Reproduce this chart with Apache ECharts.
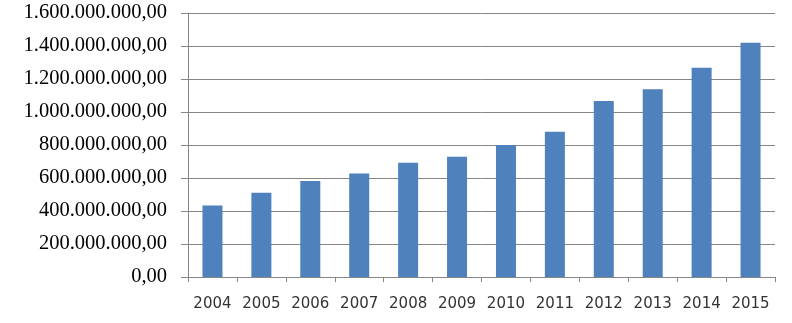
<!DOCTYPE html>
<html>
<head>
<meta charset="utf-8">
<script src="https://cdn.jsdelivr.net/npm/echarts@6/dist/echarts.min.js"></script>
<style>
  html, body { margin: 0; padding: 0; background: #fff; }
  #chart { width: 792px; height: 323px; }
</style>
</head>
<body>
<div id="chart"></div>
<script>
// years on the x axis
const years = ['2004', '2005', '2006', '2007', '2008', '2009', '2010', '2011', '2012', '2013', '2014', '2015'];
// yearly values
const values = [434e6, 511e6, 582e6, 627e6, 693e6, 729e6, 800e6, 881e6, 1067e6, 1138e6, 1268e6, 1420e6];
// y axis range / step
const yMax = 1600e6;
const yStep = 200e6;

// 1600000000 -> "1.600.000.000,00"
const fmt = (v) => {
    const s = Math.round(v).toString().replace(/\B(?=(\d{3})+(?!\d))/g, '.');
    return s + ',00';
};

const chart = echarts.init(document.getElementById('chart'), null, { renderer: 'canvas' });

chart.setOption({
    backgroundColor: '#fff',
    animation: false,
    grid: {
        top: 13,
        left: 188,
        right: 17,
        bottom: 46,
        containLabel: false,
    },
    xAxis: {
        type: 'category',
        data: years,
        axisLine: { show: true, lineStyle: { color: '#868686', width: 1 } },
        axisTick: { show: true, alignWithLabel: false, length: 5, lineStyle: { color: '#868686' } },
        axisLabel: {
            interval: 0,
            color: '#333',
            fontSize: 15,
            fontFamily: 'DejaVu Sans',
            margin: 20,
        },
        splitLine: { show: false },
    },
    yAxis: {
        type: 'value',
        min: 0,
        max: yMax,
        interval: yStep,
        axisLine: { show: true, lineStyle: { color: '#868686', width: 1 } },
        axisTick: { show: true, length: 7, lineStyle: { color: '#868686' } },
        axisLabel: {
            color: '#000',
            fontSize: 20.5,
            fontFamily: 'Liberation Serif',
            margin: 21,
            formatter: fmt,
        },
        splitLine: { show: true, lineStyle: { color: '#868686', width: 1 } },
    },
    series: [{
        type: 'bar',
        data: values,
        barWidth: 20,
        itemStyle: { color: '#4F81BD' },
    }],
});
</script>
</body>
</html>
